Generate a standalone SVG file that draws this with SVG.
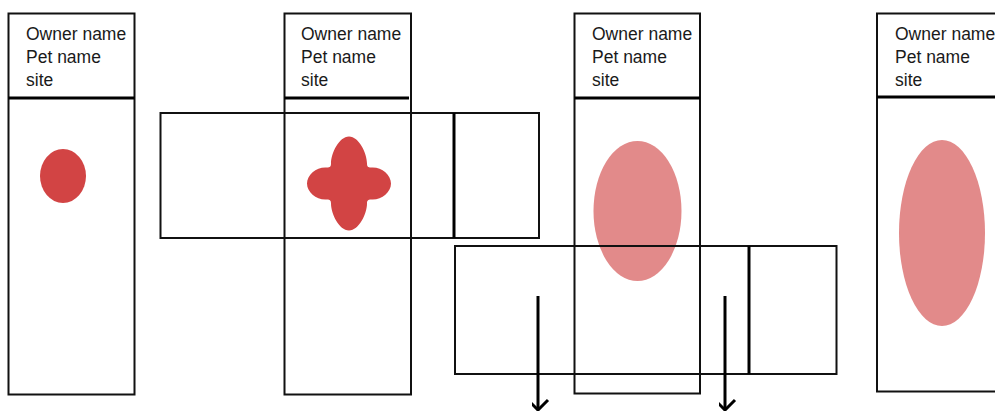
<svg xmlns="http://www.w3.org/2000/svg" width="995" height="411" viewBox="0 0 995 411">
  <defs>
    <style>
      .box { fill: none; stroke: #111; stroke-width: 2; }
      .thick { stroke: #000; stroke-width: 3; fill: none; }
      .lbl { font-family: "Liberation Sans", Arial, sans-serif; font-size: 17.5px; fill: #1a1a1a; }
      .red { fill: #d24444; }
      .pink { fill: #e28a8a; }
      .arrow { stroke: #000; stroke-width: 3; fill: none; marker-end: url(#chev); }
    </style>
    <marker id="chev" markerUnits="userSpaceOnUse" markerWidth="24" markerHeight="20" viewBox="-12 -14 24 20" refX="0" refY="0" orient="auto-start-reverse">
      <path d="M-10,-9 L0,1 L10,-9" transform="rotate(-90)" stroke="#000" stroke-width="3" fill="none"/>
    </marker>
  </defs>
  <rect width="995" height="411" fill="#fff"/>

  <g id="panel1">
    <rect class="box" x="8.5" y="13.5" width="126" height="381"/>
    <line class="thick" x1="8.5" y1="98" x2="134.5" y2="98"/>
    <text class="lbl" x="26" y="40">Owner name</text>
    <text class="lbl" x="26" y="63">Pet name</text>
    <text class="lbl" x="26" y="86">site</text>
    <ellipse class="red" cx="63" cy="176" rx="23" ry="27"/>
  </g>

  <g id="panel2">
    <rect class="box" x="284.5" y="13.5" width="126.5" height="381"/>
    <line class="thick" x1="284.5" y1="98" x2="409" y2="98"/>
    <text class="lbl" x="301" y="40">Owner name</text>
    <text class="lbl" x="301" y="63">Pet name</text>
    <text class="lbl" x="301" y="86">site</text>
    <path class="red" transform="translate(349,183.5)" d="M0,-47 C10,-47 18,-30 18,-20 C18,-17 19,-16 22,-16 C32,-17 42,-9 42,0 C42,9 32,17 22,16 C19,16 18,17 18,20 C18,30 10,47 0,47 C-10,47 -18,30 -18,20 C-18,17 -19,16 -22,16 C-32,17 -42,9 -42,0 C-42,-9 -32,-17 -22,-16 C-19,-16 -18,-17 -18,-20 C-18,-30 -10,-47 0,-47 Z"/>
  </g>

  <g id="hbox1">
    <rect class="box" x="160.5" y="113" width="378.5" height="125"/>
    <line class="thick" x1="454" y1="113" x2="454" y2="238"/>
  </g>

  <g id="panel3">
    <ellipse class="pink" cx="637.5" cy="211" rx="44" ry="70"/>
    <rect class="box" x="574.5" y="13.5" width="125.5" height="380"/>
    <line class="thick" x1="574.5" y1="98" x2="700" y2="98"/>
    <text class="lbl" x="592" y="40">Owner name</text>
    <text class="lbl" x="592" y="63">Pet name</text>
    <text class="lbl" x="592" y="86">site</text>
  </g>

  <g id="hbox2">
    <rect class="box" x="455" y="246" width="381.5" height="128"/>
    <line class="thick" x1="749" y1="246" x2="749" y2="374"/>
  </g>

  <g id="panel4">
    <ellipse class="pink" cx="942" cy="233" rx="43" ry="93"/>
    <rect class="box" x="877" y="13.5" width="130" height="378"/>
    <line class="thick" x1="877" y1="97" x2="995" y2="97"/>
    <text class="lbl" x="895" y="40">Owner name</text>
    <text class="lbl" x="895" y="63">Pet name</text>
    <text class="lbl" x="895" y="86">site</text>
  </g>

  <g id="connectors">
    <line class="arrow" x1="538" y1="296" x2="538" y2="409"/>
    <line class="arrow" x1="725" y1="296" x2="725" y2="409"/>
  </g>
</svg>
